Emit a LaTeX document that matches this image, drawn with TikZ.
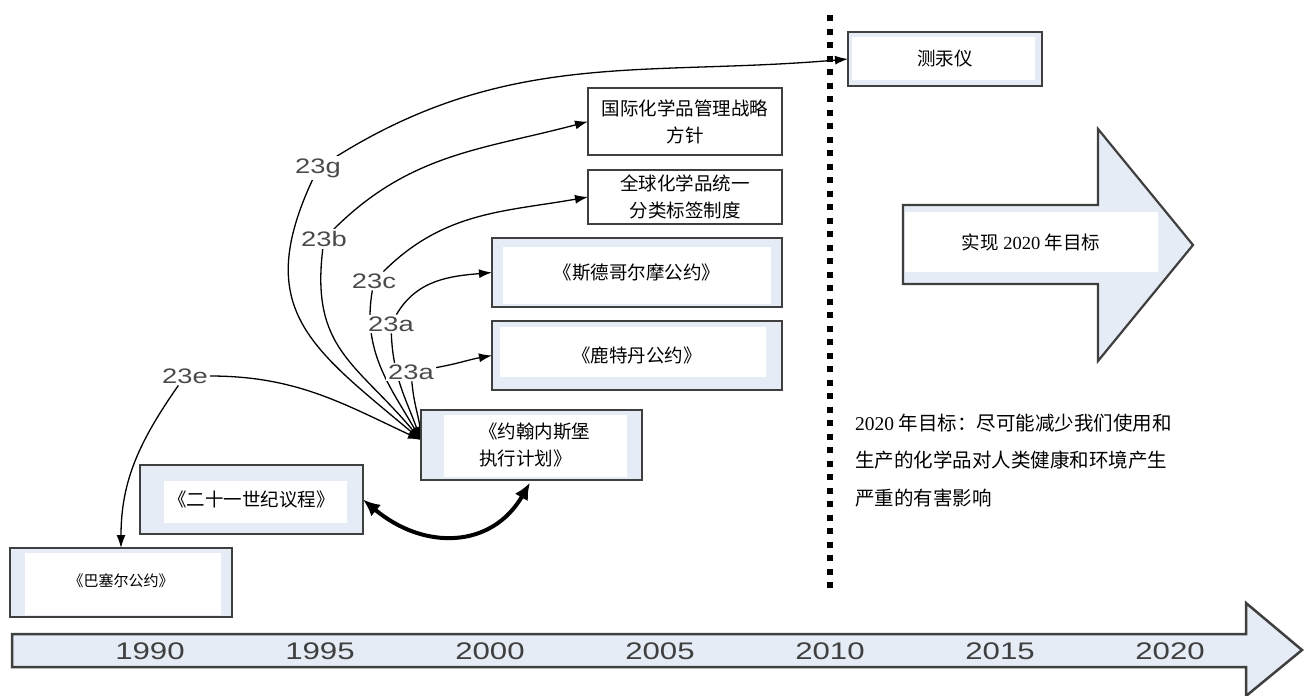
\documentclass[tikz,border=0pt]{standalone}
\usepackage{fontspec}
\setmainfont{Liberation Serif}
\newfontfamily\cjk{Noto Sans CJK SC}
\newfontfamily\tagfont[FakeStretch=1.3]{Liberation Sans}
\usetikzlibrary{arrows.meta,backgrounds}
\definecolor{boxblue}{HTML}{E6ECF6}
\definecolor{rim}{HTML}{3F3F3F}
\definecolor{tagcol}{HTML}{4A4A4A}

\begin{document}
\begin{tikzpicture}[x=1pt,y=1pt,inner sep=0pt,outer sep=0pt,
docbox/.style={draw=rim,fill=boxblue,line width=2.2pt,rectangle,font=\cjk\fontsize{18.5}{27}\selectfont},
whitein/.style n args={4}{path picture={\fill[white] ([xshift=#1pt,yshift=-#3pt]path picture bounding box.north west) rectangle ([xshift=-#2pt,yshift=#4pt]path picture bounding box.south east);}},
reftag/.style={text=tagcol,font=\tagfont\fontsize{21}{21}\selectfont,fill=white,inner sep=2pt},
refline/.style={line width=1.3pt,-{Latex[length=13pt,width=9pt]}},
twoway/.style={line width=4pt,{Latex[length=17pt,width=15pt]}-{Latex[length=17pt,width=15pt]}}]
\useasboundingbox (0,0) rectangle (1304,-696);

\draw (121,-582.5) node[docbox,whitein={15}{11}{5}{2},minimum width=222pt,minimum height=69pt,font=\cjk\fontsize{15}{18}\selectfont] (basel) {\raisebox{4pt}{《巴塞尔公约》}};
\draw (251.5,-499.5) node[docbox,whitein={24}{16}{16}{11},minimum width=223pt,minimum height=69pt] (agenda) {《二十一世纪议程》};
\draw (531.5,-445) node[docbox,whitein={23}{15}{5}{3},minimum width=221pt,minimum height=70pt,align=left] (jb) {\hspace*{6pt}《约翰内斯堡\\\hspace*{6pt}执行计划》};
\draw (637,-272.5) node[docbox,whitein={11}{11}{9}{3},minimum width=290pt,minimum height=69pt] (st) {《斯德哥尔摩公约》};
\draw (637,-355.5) node[docbox,whitein={8}{16}{6}{13},minimum width=290pt,minimum height=69pt] (rt) {《鹿特丹公约》};
\draw (685,-121.5) node[docbox,fill=white,minimum width=194pt,minimum height=67pt,align=center] (gs) {国际化学品管理战略\\方针};
\draw (685,-197) node[docbox,fill=white,minimum width=194pt,minimum height=54pt,align=center] (ghs) {全球化学品统一\\分类标签制度};
\draw (945,-59) node[docbox,whitein={4}{7}{5}{6},minimum width=194pt,minimum height=54pt] (hg) {测汞仪};
\coordinate (jbin) at ([yshift=5pt]jb.west);

\draw[line width=5.5pt,dash pattern=on 6pt off 7.5pt] (830,-15) -- (830,-592);

\filldraw[draw=rim,fill=boxblue,line width=2.2pt] (903,-205) -- (1098,-205) -- (1098,-129) -- (1193,-245) -- (1098,-361) -- (1098,-284) -- (903,-284) -- cycle;
\draw (1031,-242) node[fill=white,minimum width=253pt,minimum height=60pt,font=\fontsize{18.5}{22}\selectfont] (goal) {{\cjk 实现} 2020 {\cjk 年目标}};
\draw (855,-414) node[anchor=north west,align=left,font=\fontsize{19.5}{37.5}\selectfont] (note) {2020 {\cjk 年目标：尽可能减少我们使用和}\\{\cjk 生产的化学品对人类健康和环境产生}\\{\cjk 严重的有害影响}};

\filldraw[draw=rim,fill=boxblue,line width=2.5pt] (12,-634) -- (1246,-634) -- (1246,-603) -- (1302,-650) -- (1246,-696) -- (1246,-667) -- (12,-667) -- cycle;
\foreach \yr [count=\i from 0] in {1990,1995,2000,2005,2010,2015,2020}
  \draw (150+170*\i,-651) node[font=\tagfont\fontsize{24}{24}\selectfont,text=rim] (t\yr) {\yr};

\draw (318,-168) node[reftag] (g) {23g};
\draw (324,-239) node[reftag] (b) {23b};
\draw (374,-281) node[reftag] (c) {23c};
\draw (391,-324) node[reftag] (a1) {23a};
\draw (411,-372) node[reftag] (a2) {23a};
\draw (185,-376) node[reftag] (e) {23e};

\begin{scope}[on background layer]
\draw[refline] (g) to[out=245,in=140,looseness=1.3] (jbin);
\draw[refline] (g) to[out=32,in=185] (hg.west);
\draw[refline] (b) to[out=263,in=130,looseness=1.2] (jbin);
\draw[refline] (b) to[out=45,in=195] (gs.west);
\draw[refline] (c) to[out=260,in=120] (jbin);
\draw[refline] (c) to[out=45,in=190] (ghs.west);
\draw[refline] (a1) to[out=272,in=110] (jbin);
\draw[refline] (a1) to[out=60,in=185] (st.west);
\draw[refline] (a2) to[out=275,in=95] (jbin);
\draw[refline] (a2) to[out=10,in=190] (rt.west);
\draw[refline] (e) to[out=0,in=155] (jbin);
\draw[refline] (e) to[out=235,in=90] (basel.north);
\end{scope}
\draw[twoway,shorten >=3pt] (agenda.east) to[out=-40,in=-120,looseness=1.2] (jb.south);
\end{tikzpicture}
\end{document}
